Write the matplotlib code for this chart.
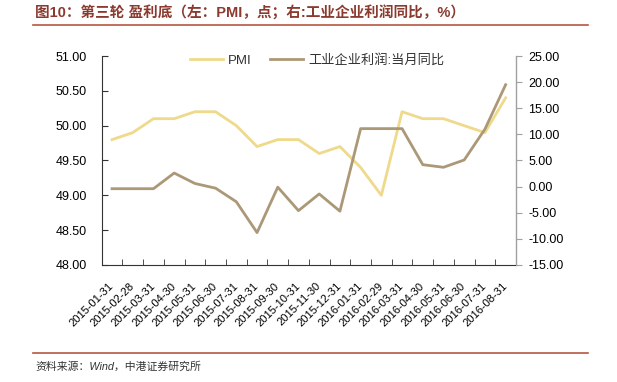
import matplotlib
matplotlib.use("Agg")
import matplotlib.pyplot as plt
from matplotlib.lines import Line2D
from matplotlib.ticker import FormatStrFormatter, FixedLocator

plt.rcParams['font.family'] = ['Liberation Sans', 'Noto Sans CJK SC', 'DejaVu Sans']

## データ
dates = ['2015-01-31', '2015-02-28', '2015-03-31', '2015-04-30', '2015-05-31',
         '2015-06-30', '2015-07-31', '2015-08-31', '2015-09-30', '2015-10-31',
         '2015-11-30', '2015-12-31', '2016-01-31', '2016-02-29', '2016-03-31',
         '2016-04-30', '2016-05-31', '2016-06-30', '2016-07-31', '2016-08-31']
pmi = [49.8, 49.9, 50.1, 50.1, 50.2, 50.2, 50.0, 49.7, 49.8, 49.8,
       49.6, 49.7, 49.4, 49.0, 50.2, 50.1, 50.1, 50.0, 49.9, 50.4]
profit = [-0.4, -0.4, -0.4, 2.6, 0.6, -0.3, -2.9, -8.8, -0.1, -4.6,
          -1.4, -4.7, 11.1, 11.1, 11.1, 4.2, 3.7, 5.1, 11.0, 19.5]
left_ticks = [48.0, 48.5, 49.0, 49.5, 50.0, 50.5, 51.0]
right_ticks = [-15, -10, -5, 0, 5, 10, 15, 20, 25]

title = '图10：第三轮 盈利底（左：PMI，点；右:工业企业利润同比，%）'
source = '资料来源：Wind，中港证券研究所'

c_pmi = '#EFD98A'
c_profit = '#AB9877'
c_title = '#8B3A2F'
c_rule = '#B5573F'

fig = plt.figure(figsize=(6.17, 3.82), dpi=100)
ax = fig.add_axes([0.1648, 0.3063, 0.6715, 0.5471])
ax2 = ax.twinx()

x = list(range(len(dates)))
l1, = ax.plot(x, pmi, color=c_pmi, lw=2, label='PMI')
l2, = ax2.plot(x, profit, color=c_profit, lw=2, label='工业企业利润:当月同比')

## 左軸
ax.set_ylim(48, 51)
ax.set_yticks(left_ticks)
ax.yaxis.set_major_formatter(FormatStrFormatter('%.2f'))
ax.tick_params(axis='y', direction='in', length=4, pad=10.8, labelsize=9, color='#333333')

## 右軸
ax2.set_ylim(-15, 25)
ax2.set_yticks(right_ticks)
ax2.yaxis.set_major_formatter(FormatStrFormatter('%.2f'))
ax2.tick_params(axis='y', direction='out', length=4, pad=4.8, labelsize=9, color='#A0A0A0')

## x軸
ax.set_xlim(-0.5, len(dates) - 0.5)
ax.set_xticks(x)
ax.set_xticklabels(dates, rotation=45, ha='right', rotation_mode='anchor', va='center')
ax.xaxis.set_minor_locator(FixedLocator([i + 0.5 for i in range(len(dates) - 1)]))
ax.tick_params(axis='x', which='major', length=0, pad=14, labelsize=8)
ax.tick_params(axis='x', which='minor', direction='in', length=4, color='#333333')

for a in (ax, ax2):
    a.spines['top'].set_visible(False)
ax.spines['left'].set_color('#333333')
ax.spines['bottom'].set_color('#333333')
ax2.spines['left'].set_visible(False)
ax2.spines['bottom'].set_visible(False)
ax2.spines['right'].set_color('#A0A0A0')

leg = ax2.legend([l1, l2], ['PMI', '工业企业利润:当月同比'], loc='center',
                 bbox_to_anchor=(0.52, 0.98), ncol=2, frameon=False, fontsize=9.5,
                 handlelength=2.5, handletextpad=0.4, columnspacing=1.4)
for t in leg.get_texts():
    t.set_color('#333333')

## タイトルと出典
fig.text(0.0567, 0.966, title, fontsize=10.5, fontweight='bold', color=c_title,
         va='center', ha='left', family=['Liberation Sans', 'Noto Sans CJK SC'])
fig.add_artist(Line2D([33 / 617, 588 / 617], [0.9346, 0.9346], color=c_rule, lw=1.2))
fig.add_artist(Line2D([33 / 617, 588 / 617], [0.0759, 0.0759], color=c_rule, lw=1.2))
fig.text(0.0567, 0.0393, source, fontsize=7.8, style='italic', color='#333333',
         va='center', ha='left', family=['Liberation Sans', 'Noto Sans CJK SC'])

fig.savefig('out.png', dpi=100)
